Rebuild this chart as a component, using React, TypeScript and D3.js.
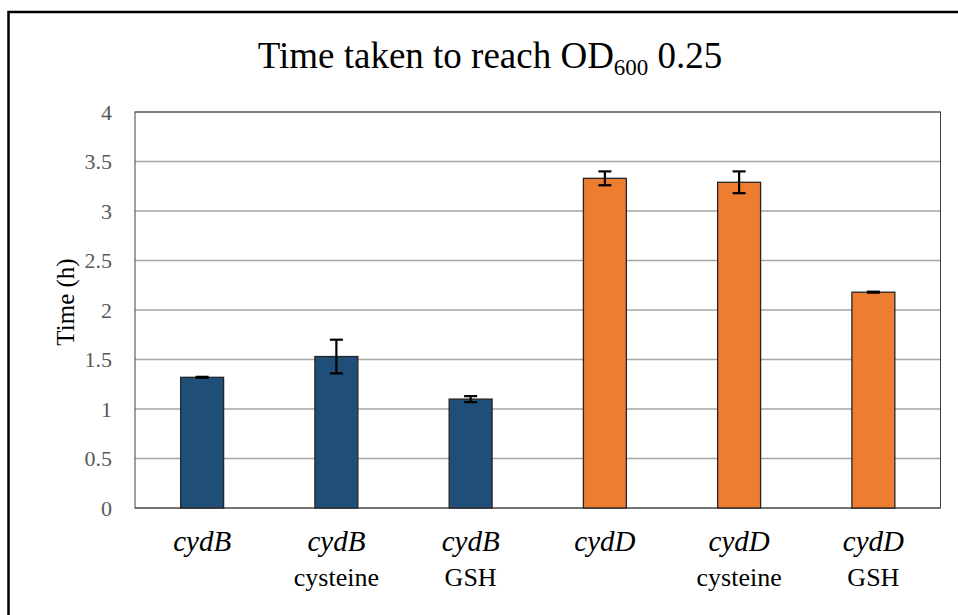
import React from "react";
import * as d3 from "d3";

// Strain / treatment labels (first line italic, second line plain)
const strains: string[] = ["cydB", "cydB", "cydB", "cydD", "cydD", "cydD"];
const treatments: string[] = ["", "cysteine", "GSH", "", "cysteine", "GSH"];
// Mean time (h) to reach OD600 0.25 and error bar half-widths
const times: number[] = [1.32, 1.53, 1.1, 3.33, 3.29, 2.18];
const errors: number[] = [0.005, 0.17, 0.03, 0.07, 0.11, 0.005];
const groupColors: string[] = ["#1F4E79", "#1F4E79", "#1F4E79", "#ED7D31", "#ED7D31", "#ED7D31"];
const yTicks: number[] = [0, 0.5, 1, 1.5, 2, 2.5, 3, 3.5, 4];

const W = 958;
const H = 615;
const plot = { left: 135, right: 940.5, top: 112, bottom: 508 };
const serif = "Liberation Serif, Times New Roman, DejaVu Serif, serif";
const txt = { fontFamily: serif };

export default function App() {
  const x = d3
    .scaleBand<number>()
    .domain(times.map((_, i) => i))
    .range([plot.left, plot.right])
    .paddingInner(0.68)
    .paddingOuter(0.34);
  const y = d3.scaleLinear().domain([0, 4]).range([plot.bottom, plot.top]);
  const bw = x.bandwidth();
  const cap = 6.5;

  return (
    <svg
      width={W}
      height={H}
      style={{ position: "absolute", left: 0, top: 0, display: "block", background: "#fff", fontFamily: serif }}
    >
      {/* outer chart frame */}
      <rect x={8.5} y={12} width={W + 20} height={H + 20} fill="#fff" stroke="#000" strokeWidth={2.5} />

      {/* title */}
      <text x={490} y={68} textAnchor="middle" fontSize={37} fill="#000" style={txt}>
        Time taken to reach OD
        <tspan fontSize={23} dy={7}>600</tspan>
        <tspan dy={-7}>{"\u00A00.25"}</tspan>
      </text>

      {/* gridlines */}
      {yTicks.map((t) => (
        <line
          key={t}
          x1={plot.left}
          x2={plot.right}
          y1={y(t)}
          y2={y(t)}
          stroke={t === 0 ? "#8c8c8c" : "#a6a6a6"}
          strokeWidth={1.3}
        />
      ))}
      {/* plot area border */}
      <rect
        x={plot.left}
        y={plot.top}
        width={plot.right - plot.left}
        height={plot.bottom - plot.top}
        fill="none"
        stroke="#404040"
        strokeWidth={1}
      />

      {/* y tick labels */}
      {yTicks.map((t) => (
        <text
          key={t}
          x={112}
          y={y(t)}
          dy="0.35em"
          textAnchor="end"
          fontSize={22}
          fill="#595959"
          style={txt}
        >
          {d3.format("")(t)}
        </text>
      ))}

      {/* y axis title */}
      <text
        transform={`translate(74,${302}) rotate(-90)`}
        textAnchor="middle"
        fontSize={25}
        fill="#000"
        style={txt}
      >
        Time (h)
      </text>

      {/* bars */}
      {times.map((v, i) => (
        <rect
          key={i}
          x={x(i)!}
          y={y(v)}
          width={bw}
          height={y(0) - y(v)}
          fill={groupColors[i]}
          stroke="#262626"
          strokeWidth={1.3}
        />
      ))}

      {/* error bars */}
      {times.map((v, i) => {
        const cx = x(i)! + bw / 2;
        const hi = y(v + errors[i]);
        const lo = y(v - errors[i]);
        return (
          <g key={i} stroke="#000" strokeWidth={2.2}>
            <line x1={cx} x2={cx} y1={hi} y2={lo} />
            <line x1={cx - cap} x2={cx + cap} y1={hi} y2={hi} />
            <line x1={cx - cap} x2={cx + cap} y1={lo} y2={lo} />
          </g>
        );
      })}

      {/* category labels */}
      {strains.map((s, i) => {
        const cx = x(i)! + bw / 2;
        return (
          <g key={i} textAnchor="middle" fill="#000">
            <text x={cx} y={551} fontSize={29} fontStyle="italic" style={txt}>
              {s}
            </text>
            {treatments[i] && (
              <text x={cx} y={586} fontSize={26} style={txt}>
                {treatments[i]}
              </text>
            )}
          </g>
        );
      })}
    </svg>
  );
}
